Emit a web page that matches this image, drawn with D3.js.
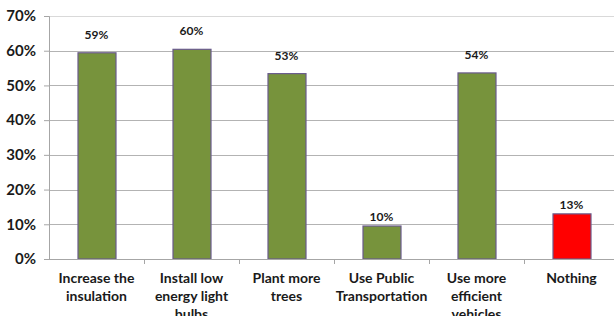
<!DOCTYPE html>
<html>
<head>
<meta charset="utf-8">
<script src="https://cdn.jsdelivr.net/npm/d3@7"></script>
<style>
  html, body { margin: 0; padding: 0; background: #fff; overflow: hidden; }
  text { font-family: Lato, "Open Sans", "DejaVu Sans", sans-serif; font-weight: bold; fill: #1a1a1a; }
</style>
</head>
<body>
<div id="chart"></div>
<script>
// data
const categories = [
  ['Increase the', 'insulation'],
  ['Install low', 'energy light', 'bulbs'],
  ['Plant more', 'trees'],
  ['Use Public', 'Transportation'],
  ['Use more', 'efficient', 'vehicles'],
  ['Nothing']
];
const values = [59.4, 60.4, 53.4, 9.5, 53.6, 13];
const barColors = ['#77933c', '#77933c', '#77933c', '#77933c', '#77933c', '#ff0000'];
const yTicks = [0, 10, 20, 30, 40, 50, 60, 70];

// size
const outerWidth = 614, outerHeight = 316;
const margin = { top: 16, left: 49 };
const width = 570;   // plot runs past the right edge, like the original
const height = 243;

const svg = d3.select('#chart').append('svg')
    .attr('width', outerWidth)
    .attr('height', outerHeight)
  .append('g')
    .attr('transform', `translate(${margin.left},${margin.top})`);

const idx = categories.map((d, i) => i);
const x = d3.scaleBand()
  .domain(idx)
  .range([0, width])
  .paddingInner(0.6)
  .paddingOuter(0.3);
const xStep = d3.scaleLinear().domain([0, idx.length]).range([0, width]);
const y = d3.scaleLinear().domain([0, 70]).range([height, 0]);

// gridlines
svg.append('g')
  .selectAll('line')
  .data(yTicks.filter(t => t > 0))
  .join('line')
    .attr('x1', 0).attr('x2', width)
    .attr('y1', d => Math.round(y(d)) + 0.5)
    .attr('y2', d => Math.round(y(d)) + 0.5)
    .attr('stroke', d => d === 70 ? '#d9d9d9' : '#b3b3b3')
    .attr('stroke-width', 1);

// y axis
const yAxisG = svg.append('g')
  .call(d3.axisLeft(y).tickValues(yTicks).tickSize(5).tickPadding(8).tickFormat(d => d + '%'));
yAxisG.select('.domain').attr('stroke', '#a6a6a6');
yAxisG.selectAll('.tick line').attr('stroke', '#a6a6a6');
yAxisG.selectAll('text')
  .attr('font-size', 15)
  .attr('font-family', 'Lato, sans-serif')
  .attr('font-weight', 'bold')
  .attr('fill', '#1a1a1a');

// bars
svg.selectAll('.bar')
  .data(values)
  .join('rect')
    .attr('class', 'bar')
    .attr('x', (d, i) => x(i) + 0.5)
    .attr('width', x.bandwidth())
    .attr('y', d => y(d))
    .attr('height', d => height - y(d))
    .attr('fill', (d, i) => barColors[i])
    .attr('stroke', '#6a5a8c')
    .attr('stroke-width', 1.2);

// x axis line + boundary ticks
svg.append('line')
  .attr('x1', 0).attr('x2', width)
  .attr('y1', height + 0.5).attr('y2', height + 0.5)
  .attr('stroke', '#a6a6a6');
svg.append('g')
  .selectAll('line')
  .data(d3.range(1, idx.length + 1))
  .join('line')
    .attr('x1', d => Math.round(xStep(d)) + 0.5)
    .attr('x2', d => Math.round(xStep(d)) + 0.5)
    .attr('y1', height).attr('y2', height + 5)
    .attr('stroke', '#a6a6a6');

// value labels
svg.selectAll('.val')
  .data(values)
  .join('text')
    .attr('class', 'val')
    .attr('x', (d, i) => x(i) + x.bandwidth() / 2)
    .attr('y', d => y(d) - (d > 30 ? 14 : 5))
    .attr('text-anchor', 'middle')
    .attr('font-size', 12)
    .attr('font-weight', 600)
    .attr('fill', '#333')
    .text(d => Math.round(d) + '%');

// category labels
const cat = svg.selectAll('.cat')
  .data(categories)
  .join('text')
    .attr('class', 'cat')
    .attr('text-anchor', 'middle')
    .attr('font-size', 14)
    .attr('transform', (d, i) => `translate(${x(i) + x.bandwidth() / 2},${height + 24})`);
cat.selectAll('tspan')
  .data(d => d)
  .join('tspan')
    .attr('x', 0)
    .attr('y', (d, j) => j * 18)
    .text(d => d);
</script>
</body>
</html>
